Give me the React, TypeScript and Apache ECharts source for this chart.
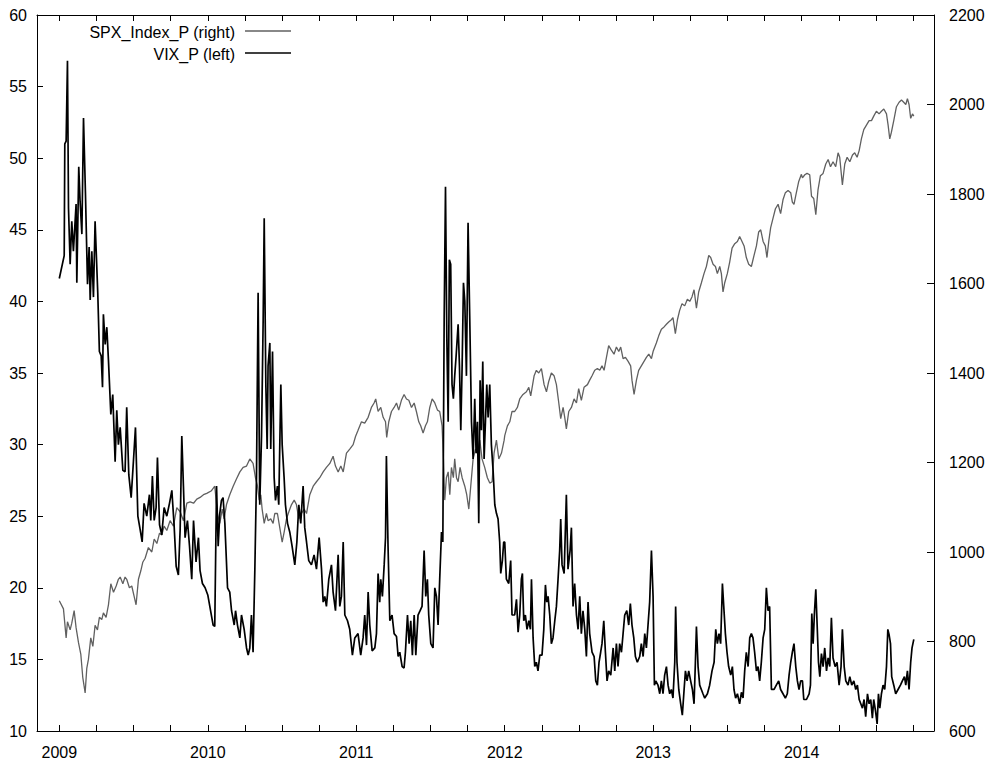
import React, { useEffect, useRef } from "react";
import * as echarts from "echarts";

// ---- Data (decimal year, value) ----
const vix2009: [number, number][] = [
  [2009.0, 41.6], [2009.033, 43.2], [2009.037, 51.0], [2009.046, 51.2], [2009.055, 56.8], [2009.062, 46.5],
  [2009.073, 42.6], [2009.084, 45.6], [2009.095, 43.5], [2009.113, 46.8], [2009.118, 41.3], [2009.131, 49.4],
  [2009.14, 47.0], [2009.152, 44.7], [2009.163, 52.8], [2009.176, 47.6], [2009.19, 41.2], [2009.201, 43.8],
  [2009.208, 40.1], [2009.219, 43.5], [2009.23, 40.3], [2009.241, 45.6], [2009.259, 40.6], [2009.27, 36.5],
  [2009.282, 36.2], [2009.291, 34.0], [2009.297, 39.1], [2009.309, 37.0], [2009.32, 38.2], [2009.331, 35.9],
  [2009.347, 32.1], [2009.36, 33.5], [2009.376, 28.8], [2009.387, 32.4], [2009.398, 30.0], [2009.41, 31.2],
  [2009.428, 28.2], [2009.443, 28.1], [2009.454, 32.6], [2009.468, 27.9], [2009.484, 26.3], [2009.499, 28.8],
  [2009.513, 31.2], [2009.529, 25.0], [2009.544, 24.1], [2009.558, 23.2], [2009.571, 25.9], [2009.589, 25.0],
  [2009.607, 26.5], [2009.616, 24.7], [2009.627, 27.8], [2009.639, 24.7], [2009.652, 25.6], [2009.661, 29.1],
  [2009.675, 24.4], [2009.69, 23.7], [2009.706, 25.6], [2009.724, 25.0], [2009.742, 25.9], [2009.758, 26.8],
  [2009.773, 24.4], [2009.787, 21.5], [2009.802, 20.9], [2009.814, 24.1], [2009.825, 30.6], [2009.836, 27.1],
  [2009.847, 23.5], [2009.863, 24.7], [2009.877, 22.9], [2009.892, 20.6], [2009.904, 24.7], [2009.921, 21.8],
  [2009.937, 23.5], [2009.948, 21.2], [2009.964, 20.3], [2009.982, 20.0],
];
const vix2010: [number, number][] = [
  [2010.0, 19.5], [2010.036, 17.4], [2010.047, 17.3], [2010.059, 27.1], [2010.07, 22.9], [2010.081, 25.2],
  [2010.092, 26.1], [2010.103, 26.3], [2010.115, 24.5], [2010.133, 20.0], [2010.148, 19.7], [2010.16, 18.4],
  [2010.178, 17.4], [2010.187, 18.4], [2010.2, 17.4], [2010.216, 16.5], [2010.227, 18.1], [2010.245, 17.1],
  [2010.261, 15.8], [2010.272, 15.3], [2010.283, 15.8], [2010.294, 18.1], [2010.305, 15.5], [2010.317, 21.3],
  [2010.328, 27.7], [2010.339, 40.6], [2010.35, 25.8], [2010.362, 30.6], [2010.373, 38.7], [2010.38, 45.8],
  [2010.391, 34.2], [2010.4, 29.7], [2010.406, 35.5], [2010.418, 37.1], [2010.424, 29.7], [2010.436, 36.5],
  [2010.447, 27.7], [2010.456, 26.1], [2010.469, 27.1], [2010.478, 25.8], [2010.492, 34.2], [2010.501, 30.0],
  [2010.514, 27.7], [2010.523, 25.8], [2010.537, 24.5], [2010.552, 23.9], [2010.568, 22.9], [2010.586, 21.6],
  [2010.6, 23.2], [2010.613, 25.8], [2010.626, 24.5], [2010.642, 27.1], [2010.653, 24.2], [2010.665, 23.2],
  [2010.68, 21.9], [2010.698, 21.6], [2010.716, 22.3], [2010.732, 21.3], [2010.75, 23.5], [2010.766, 21.3],
  [2010.777, 19.0], [2010.788, 19.4], [2010.799, 18.7], [2010.815, 20.6], [2010.833, 21.6], [2010.844, 19.7],
  [2010.86, 18.4], [2010.878, 22.3], [2010.889, 18.7], [2010.9, 19.4], [2010.912, 23.2], [2010.923, 18.1],
  [2010.941, 17.7], [2010.956, 17.1], [2010.974, 15.3], [2010.99, 16.5],
];
const vix2011: [number, number][] = [
  [2011.012, 16.8], [2011.03, 15.3], [2011.046, 16.5], [2011.057, 18.1], [2011.069, 16.0], [2011.08, 19.7],
  [2011.091, 17.4], [2011.107, 15.6], [2011.125, 15.8], [2011.136, 16.8], [2011.147, 21.0], [2011.158, 19.0],
  [2011.165, 20.6], [2011.176, 19.4], [2011.188, 21.6], [2011.197, 23.5], [2011.203, 29.2], [2011.214, 22.9],
  [2011.226, 17.7], [2011.241, 18.1], [2011.255, 16.8], [2011.271, 16.6], [2011.282, 15.2], [2011.293, 15.5],
  [2011.309, 14.5], [2011.322, 14.4], [2011.331, 15.5], [2011.345, 18.1], [2011.356, 16.1], [2011.367, 17.7],
  [2011.378, 15.3], [2011.39, 18.1], [2011.401, 15.3], [2011.416, 18.1], [2011.43, 18.4], [2011.443, 18.7],
  [2011.457, 22.6], [2011.468, 19.4], [2011.479, 20.6], [2011.488, 18.1], [2011.502, 16.1], [2011.517, 15.8],
  [2011.529, 20.0], [2011.54, 19.4], [2011.551, 17.4], [2011.562, 20.6], [2011.574, 23.9], [2011.583, 23.2],
  [2011.592, 38.7], [2011.601, 48.0], [2011.61, 37.4], [2011.619, 31.6], [2011.627, 42.9], [2011.636, 42.6],
  [2011.645, 34.2], [2011.654, 33.2], [2011.663, 34.8], [2011.672, 36.1], [2011.686, 38.4], [2011.695, 35.5],
  [2011.704, 31.0], [2011.713, 35.5], [2011.722, 41.3], [2011.731, 40.0], [2011.742, 34.8], [2011.753, 45.5],
  [2011.764, 39.0], [2011.776, 31.6], [2011.787, 29.0], [2011.798, 33.2], [2011.807, 29.4], [2011.816, 31.6],
  [2011.825, 24.5], [2011.834, 34.5], [2011.843, 31.0], [2011.852, 35.8], [2011.861, 29.0], [2011.87, 31.6],
  [2011.879, 34.2], [2011.888, 31.9], [2011.899, 34.2], [2011.91, 30.0], [2011.922, 28.1], [2011.933, 25.8],
  [2011.944, 25.2], [2011.955, 24.8], [2011.966, 23.2], [2011.973, 21.0], [2011.984, 21.9], [2011.993, 23.2],
];
const vix2012: [number, number][] = [
  [2012.0, 23.2], [2012.011, 20.6], [2012.027, 20.3], [2012.04, 21.9], [2012.049, 18.1], [2012.067, 18.1],
  [2012.079, 19.2], [2012.09, 16.9], [2012.101, 18.1], [2012.112, 20.6], [2012.119, 21.0], [2012.128, 17.7],
  [2012.139, 18.1], [2012.15, 17.1], [2012.162, 17.7], [2012.173, 17.1], [2012.18, 20.6], [2012.191, 16.5],
  [2012.202, 14.5], [2012.213, 14.8], [2012.224, 14.2], [2012.236, 15.3], [2012.251, 15.3], [2012.263, 17.1],
  [2012.274, 20.2], [2012.283, 19.0], [2012.292, 19.4], [2012.303, 18.1], [2012.314, 16.1], [2012.325, 16.5],
  [2012.337, 17.7], [2012.348, 18.7], [2012.359, 20.6], [2012.37, 22.6], [2012.377, 24.8], [2012.386, 21.6],
  [2012.4, 21.0], [2012.415, 26.5], [2012.426, 21.3], [2012.44, 22.6], [2012.449, 24.2], [2012.46, 18.7],
  [2012.471, 20.3], [2012.483, 18.1], [2012.494, 17.1], [2012.505, 19.4], [2012.516, 16.8], [2012.527, 18.4],
  [2012.539, 17.1], [2012.55, 15.2], [2012.561, 19.0], [2012.572, 16.8], [2012.588, 15.5], [2012.602, 15.2],
  [2012.613, 13.5], [2012.624, 13.2], [2012.635, 14.8], [2012.646, 15.5], [2012.655, 16.1], [2012.667, 17.7],
  [2012.678, 15.5], [2012.689, 13.5], [2012.7, 14.2], [2012.714, 13.9], [2012.73, 15.8], [2012.741, 14.2],
  [2012.752, 16.1], [2012.763, 14.5], [2012.774, 16.1], [2012.786, 15.5], [2012.797, 16.8], [2012.808, 18.1],
  [2012.822, 18.4], [2012.835, 17.4], [2012.846, 18.9], [2012.857, 17.4], [2012.869, 16.5], [2012.88, 15.2],
  [2012.893, 14.8], [2012.909, 15.2], [2012.92, 16.1], [2012.932, 15.2], [2012.943, 16.8], [2012.954, 15.8],
  [2012.965, 17.4], [2012.976, 19.0], [2012.988, 22.6], [2012.999, 19.4],
];
const vix2013: [number, number][] = [
  [2013.008, 13.2], [2013.017, 13.5], [2013.032, 13.2], [2013.044, 12.6], [2013.055, 13.5], [2013.066, 12.6],
  [2013.077, 13.9], [2013.089, 14.5], [2013.1, 13.2], [2013.111, 12.6], [2013.122, 12.9], [2013.133, 12.3],
  [2013.145, 14.8], [2013.151, 18.7], [2013.16, 14.8], [2013.172, 12.9], [2013.185, 11.9], [2013.196, 11.1],
  [2013.208, 12.9], [2013.217, 14.2], [2013.228, 13.5], [2013.239, 14.2], [2013.252, 13.5], [2013.264, 12.9],
  [2013.275, 11.9], [2013.284, 14.8], [2013.291, 17.3], [2013.302, 14.5], [2013.313, 13.2], [2013.324, 12.9],
  [2013.335, 12.6], [2013.347, 12.3], [2013.365, 12.6], [2013.38, 13.2], [2013.396, 14.2], [2013.41, 14.8],
  [2013.421, 17.1], [2013.432, 16.1], [2013.443, 16.8], [2013.454, 16.1], [2013.466, 20.3], [2013.475, 18.7],
  [2013.486, 16.8], [2013.497, 15.5], [2013.508, 14.5], [2013.522, 13.9], [2013.533, 14.5], [2013.544, 12.9],
  [2013.555, 12.3], [2013.567, 12.6], [2013.582, 11.9], [2013.594, 12.7], [2013.605, 12.3], [2013.616, 14.2],
  [2013.627, 15.5], [2013.639, 14.5], [2013.65, 16.5], [2013.661, 16.8], [2013.672, 16.5], [2013.683, 15.5],
  [2013.695, 14.2], [2013.706, 14.5], [2013.717, 13.5], [2013.728, 14.8], [2013.74, 16.5], [2013.751, 17.1],
  [2013.762, 20.0], [2013.773, 18.4], [2013.784, 18.7], [2013.796, 12.9], [2013.814, 12.9], [2013.829, 13.2],
  [2013.845, 13.5], [2013.858, 12.9], [2013.874, 12.6], [2013.89, 12.3], [2013.903, 12.6], [2013.915, 13.9],
  [2013.926, 14.8], [2013.937, 15.5], [2013.948, 16.1], [2013.96, 14.5], [2013.971, 13.5], [2013.982, 12.9],
  [2013.993, 13.5],
];
const vix2014: [number, number][] = [
  [2014.005, 13.5], [2014.014, 12.2], [2014.032, 12.2], [2014.05, 12.6], [2014.059, 13.2], [2014.068, 18.2],
  [2014.077, 16.1], [2014.086, 18.3], [2014.095, 19.9], [2014.104, 17.4], [2014.113, 14.8], [2014.122, 13.8],
  [2014.133, 15.4], [2014.144, 14.5], [2014.155, 15.8], [2014.167, 14.2], [2014.178, 15.1], [2014.189, 14.5],
  [2014.2, 17.9], [2014.211, 15.1], [2014.225, 14.5], [2014.238, 14.8], [2014.252, 13.2], [2014.265, 14.5],
  [2014.274, 17.1], [2014.286, 14.5], [2014.297, 13.5], [2014.312, 13.2], [2014.324, 13.8], [2014.337, 13.2],
  [2014.351, 13.5], [2014.364, 12.9], [2014.375, 13.2], [2014.387, 12.2], [2014.398, 11.9], [2014.409, 11.6],
  [2014.42, 12.2], [2014.431, 11.0], [2014.443, 12.6], [2014.454, 11.9], [2014.465, 12.2], [2014.476, 10.9],
  [2014.485, 12.2], [2014.497, 11.4], [2014.508, 10.5], [2014.517, 12.6], [2014.526, 11.6], [2014.537, 12.6],
  [2014.548, 13.2], [2014.559, 12.9], [2014.571, 14.5], [2014.58, 17.1], [2014.589, 16.7], [2014.598, 16.1],
  [2014.606, 13.8], [2014.62, 13.2], [2014.633, 12.6], [2014.649, 12.9], [2014.665, 13.2], [2014.678, 13.5],
  [2014.692, 13.8], [2014.701, 13.2], [2014.712, 14.2], [2014.723, 12.9], [2014.734, 14.8], [2014.743, 15.8],
  [2014.755, 16.4],
];

const spx2009: [number, number][] = [
  [2009.0, 891], [2009.028, 873], [2009.046, 808], [2009.055, 844], [2009.073, 826], [2009.084, 841],
  [2009.1, 869], [2009.113, 831], [2009.129, 798], [2009.145, 771], [2009.158, 720], [2009.174, 685],
  [2009.185, 740], [2009.196, 760], [2009.212, 808], [2009.226, 789], [2009.241, 836], [2009.257, 826],
  [2009.27, 854], [2009.286, 849], [2009.297, 864], [2009.315, 854], [2009.331, 882], [2009.347, 929],
  [2009.365, 910], [2009.383, 924], [2009.398, 939], [2009.41, 944], [2009.428, 929], [2009.443, 944],
  [2009.454, 939], [2009.472, 920], [2009.488, 924], [2009.504, 901], [2009.517, 882], [2009.533, 939],
  [2009.549, 958], [2009.562, 977], [2009.578, 986], [2009.6, 1010], [2009.623, 1000], [2009.639, 1029],
  [2009.657, 1019], [2009.675, 1042], [2009.69, 1038], [2009.706, 1058], [2009.724, 1048], [2009.746, 1070],
  [2009.769, 1058], [2009.791, 1099], [2009.814, 1090], [2009.836, 1070], [2009.859, 1109], [2009.881, 1112],
  [2009.904, 1109], [2009.926, 1118], [2009.948, 1122], [2009.971, 1128], [2009.993, 1131],
];
const spx2010: [number, number][] = [
  [2010.025, 1137], [2010.047, 1147], [2010.065, 1086], [2010.081, 1064], [2010.097, 1096], [2010.11, 1074],
  [2010.126, 1106], [2010.148, 1128], [2010.171, 1147], [2010.193, 1163], [2010.216, 1179], [2010.238, 1189],
  [2010.261, 1192], [2010.283, 1208], [2010.305, 1198], [2010.321, 1166], [2010.335, 1147], [2010.346, 1116],
  [2010.357, 1128], [2010.366, 1096], [2010.38, 1064], [2010.395, 1086], [2010.406, 1070], [2010.424, 1074],
  [2010.44, 1064], [2010.451, 1086], [2010.469, 1086], [2010.485, 1054], [2010.501, 1022], [2010.514, 1044],
  [2010.53, 1074], [2010.546, 1090], [2010.564, 1106], [2010.582, 1116], [2010.597, 1106], [2010.613, 1074],
  [2010.631, 1086], [2010.649, 1096], [2010.665, 1086], [2010.687, 1128], [2010.71, 1147], [2010.732, 1157],
  [2010.754, 1166], [2010.777, 1179], [2010.799, 1189], [2010.822, 1198], [2010.844, 1214], [2010.86, 1192],
  [2010.878, 1179], [2010.896, 1192], [2010.912, 1179], [2010.934, 1221], [2010.956, 1230], [2010.979, 1240],
  [2010.995, 1258],
];
const spx2011: [number, number][] = [
  [2011.012, 1272], [2011.035, 1291], [2011.057, 1288], [2011.08, 1301], [2011.102, 1323], [2011.12, 1333],
  [2011.131, 1342], [2011.147, 1314], [2011.165, 1323], [2011.181, 1301], [2011.197, 1291], [2011.205, 1256],
  [2011.219, 1291], [2011.237, 1314], [2011.255, 1323], [2011.271, 1333], [2011.286, 1317], [2011.304, 1339],
  [2011.322, 1352], [2011.338, 1342], [2011.354, 1339], [2011.372, 1323], [2011.39, 1333], [2011.405, 1314],
  [2011.421, 1291], [2011.434, 1282], [2011.45, 1266], [2011.466, 1282], [2011.479, 1291], [2011.495, 1323],
  [2011.511, 1342], [2011.529, 1333], [2011.547, 1317], [2011.562, 1314], [2011.578, 1282], [2011.587, 1208],
  [2011.596, 1116], [2011.607, 1166], [2011.619, 1179], [2011.63, 1128], [2011.641, 1189], [2011.654, 1166],
  [2011.663, 1208], [2011.675, 1166], [2011.686, 1157], [2011.699, 1189], [2011.713, 1166], [2011.731, 1147],
  [2011.744, 1128], [2011.758, 1096], [2011.771, 1147], [2011.787, 1208], [2011.803, 1230], [2011.816, 1221],
  [2011.832, 1250], [2011.847, 1208], [2011.865, 1189], [2011.883, 1166], [2011.899, 1154], [2011.915, 1157],
  [2011.928, 1221], [2011.944, 1250], [2011.96, 1208], [2011.978, 1221], [2011.996, 1250],
];
const spx2012: [number, number][] = [
  [2012.0, 1260], [2012.018, 1282], [2012.034, 1291], [2012.049, 1314], [2012.067, 1314], [2012.085, 1323],
  [2012.101, 1342], [2012.123, 1352], [2012.146, 1358], [2012.162, 1368], [2012.175, 1349], [2012.198, 1394],
  [2012.213, 1406], [2012.229, 1400], [2012.247, 1410], [2012.265, 1374], [2012.281, 1358], [2012.296, 1381],
  [2012.314, 1400], [2012.332, 1394], [2012.348, 1374], [2012.364, 1333], [2012.377, 1298], [2012.393, 1323],
  [2012.404, 1301], [2012.415, 1275], [2012.431, 1314], [2012.449, 1323], [2012.467, 1342], [2012.483, 1333],
  [2012.498, 1365], [2012.516, 1339], [2012.534, 1368], [2012.557, 1374], [2012.572, 1384], [2012.588, 1394],
  [2012.606, 1406], [2012.624, 1410], [2012.64, 1406], [2012.655, 1416], [2012.669, 1406], [2012.685, 1435],
  [2012.7, 1461], [2012.718, 1451], [2012.736, 1442], [2012.752, 1458], [2012.768, 1448], [2012.781, 1458],
  [2012.797, 1432], [2012.813, 1435], [2012.831, 1426], [2012.848, 1416], [2012.857, 1384], [2012.871, 1352],
  [2012.887, 1384], [2012.902, 1406], [2012.92, 1416], [2012.938, 1426], [2012.954, 1435], [2012.97, 1442],
  [2012.988, 1432], [2012.999, 1448],
];
const spx2013: [number, number][] = [
  [2013.021, 1467], [2013.037, 1483], [2013.055, 1498], [2013.073, 1503], [2013.089, 1509], [2013.104, 1514],
  [2013.122, 1519], [2013.133, 1524], [2013.149, 1488], [2013.163, 1519], [2013.178, 1540], [2013.194, 1555],
  [2013.212, 1550], [2013.23, 1565], [2013.246, 1560], [2013.261, 1570], [2013.275, 1586], [2013.291, 1545],
  [2013.306, 1581], [2013.324, 1601], [2013.342, 1622], [2013.358, 1638], [2013.374, 1663], [2013.387, 1658],
  [2013.403, 1643], [2013.419, 1638], [2013.432, 1622], [2013.448, 1638], [2013.459, 1622], [2013.47, 1581],
  [2013.481, 1601], [2013.499, 1622], [2013.515, 1648], [2013.531, 1679], [2013.549, 1689], [2013.567, 1694],
  [2013.582, 1705], [2013.598, 1694], [2013.612, 1684], [2013.627, 1658], [2013.643, 1643], [2013.661, 1638],
  [2013.679, 1663], [2013.695, 1684], [2013.71, 1715], [2013.724, 1720], [2013.74, 1694], [2013.755, 1684],
  [2013.766, 1658], [2013.778, 1694], [2013.791, 1725], [2013.807, 1746], [2013.823, 1767], [2013.841, 1777],
  [2013.858, 1756], [2013.874, 1787], [2013.89, 1803], [2013.908, 1808], [2013.926, 1803], [2013.937, 1782],
  [2013.948, 1777], [2013.964, 1803], [2013.98, 1828], [2013.998, 1844],
];
const spx2014: [number, number][] = [
  [2014.005, 1836], [2014.021, 1843], [2014.036, 1846], [2014.054, 1843], [2014.066, 1795], [2014.081, 1790],
  [2014.095, 1754], [2014.11, 1810], [2014.126, 1841], [2014.144, 1846], [2014.162, 1867], [2014.178, 1877],
  [2014.194, 1861], [2014.211, 1872], [2014.229, 1861], [2014.245, 1892], [2014.256, 1882], [2014.274, 1820],
  [2014.29, 1867], [2014.306, 1882], [2014.324, 1872], [2014.342, 1887], [2014.357, 1892], [2014.373, 1882],
  [2014.387, 1897], [2014.402, 1923], [2014.418, 1944], [2014.436, 1954], [2014.454, 1964], [2014.47, 1964],
  [2014.485, 1974], [2014.503, 1985], [2014.521, 1979], [2014.537, 1985], [2014.553, 1990], [2014.571, 1979],
  [2014.582, 1954], [2014.593, 1923], [2014.604, 1938], [2014.62, 1964], [2014.638, 1995], [2014.656, 2005],
  [2014.672, 2010], [2014.687, 2005], [2014.701, 2000], [2014.712, 2013], [2014.723, 2000], [2014.734, 1969],
  [2014.746, 1979], [2014.755, 1974],
];

const yearLabels = [2009, 2010, 2011, 2012, 2013, 2014];
const quarterTicks: number[] = [];
yearLabels.forEach((y) => [0, 0.25, 0.5, 0.75].forEach((q) => quarterTicks.push(y + q)));

const legendNames = ["SPX_Index_P (right)", "VIX_P (left)"];

const FONT = '"Liberation Sans", Arial, Helvetica, sans-serif';
const X_MIN = 2008.8498;
const X_MAX = 2014.891;
const SPX_COLOR = "#606060";
const VIX_COLOR = "#000";

export default function App() {
  const ref = useRef<HTMLDivElement>(null);
  useEffect(() => {
    document.body.style.margin = "0";
    if (!ref.current) return;
    const chart = echarts.init(ref.current, undefined, { renderer: "svg" });
    const vix = [...vix2009, ...vix2010, ...vix2011, ...vix2012, ...vix2013, ...vix2014];
    const spx = [...spx2009, ...spx2010, ...spx2011, ...spx2012, ...spx2013, ...spx2014];
    const axisLine = { show: true, lineStyle: { color: "#000", width: 1 } };
    const labelStyle = { color: "#000", fontSize: 16, fontFamily: FONT };
    chart.setOption({
      animation: false,
      backgroundColor: "#fff",
      textStyle: { fontFamily: FONT },
      grid: { left: 37, right: 58, top: 15, bottom: 36, containLabel: false, outerBoundsMode: "none" },
      xAxis: [
        {
          type: "value",
          position: "bottom",
          min: X_MIN,
          max: X_MAX,
          splitLine: { show: false },
          axisLine,
          axisTick: { show: true, inside: true, length: 6, customValues: quarterTicks, lineStyle: { color: "#000" } },
          axisLabel: {
            ...labelStyle,
            margin: 13,
            customValues: yearLabels,
            formatter: (v: number) => String(Math.round(v)),
          },
        },
        {
          type: "value",
          position: "top",
          min: X_MIN,
          max: X_MAX,
          splitLine: { show: false },
          axisLine,
          axisTick: { show: true, inside: true, length: 6, customValues: quarterTicks, lineStyle: { color: "#000" } },
          axisLabel: { show: false },
        },
      ],
      yAxis: [
        {
          type: "value",
          position: "left",
          min: 10,
          max: 60,
          interval: 5,
          splitLine: { show: false },
          axisLine,
          axisTick: { show: true, inside: true, length: 6, lineStyle: { color: "#000" } },
          axisLabel: { ...labelStyle, margin: 10, formatter: (v: number) => String(v) },
        },
        {
          type: "value",
          position: "right",
          min: 600,
          max: 2200,
          interval: 200,
          splitLine: { show: false },
          axisLine,
          axisTick: { show: true, inside: true, length: 7, lineStyle: { color: "#000" } },
          axisLabel: { ...labelStyle, margin: 15, formatter: (v: number) => String(v) },
        },
      ],
      series: [
        {
          name: legendNames[0],
          type: "line",
          xAxisIndex: 0,
          yAxisIndex: 1,
          data: spx,
          symbol: "none",
          lineStyle: { color: SPX_COLOR, width: 1.3 },
        },
        {
          name: legendNames[1],
          type: "line",
          xAxisIndex: 0,
          yAxisIndex: 0,
          data: vix,
          symbol: "none",
          lineStyle: { color: VIX_COLOR, width: 1.7 },
        },
      ],
      graphic: [
        {
          type: "text",
          x: 235,
          y: 32,
          silent: true,
          style: { text: legendNames[0], fill: "#000", font: `16px ${FONT}`, align: "right", verticalAlign: "middle" },
        },
        {
          type: "line",
          silent: true,
          shape: { x1: 245, y1: 31, x2: 291, y2: 31 },
          style: { stroke: SPX_COLOR, lineWidth: 1.3 },
        },
        {
          type: "text",
          x: 235,
          y: 54,
          silent: true,
          style: { text: legendNames[1], fill: "#000", font: `16px ${FONT}`, align: "right", verticalAlign: "middle" },
        },
        {
          type: "line",
          silent: true,
          shape: { x1: 245, y1: 53, x2: 291, y2: 53 },
          style: { stroke: VIX_COLOR, lineWidth: 1.7 },
        },
      ],
    });
    return () => chart.dispose();
  }, []);
  return <div ref={ref} style={{ width: 992, height: 767 }} />;
}
